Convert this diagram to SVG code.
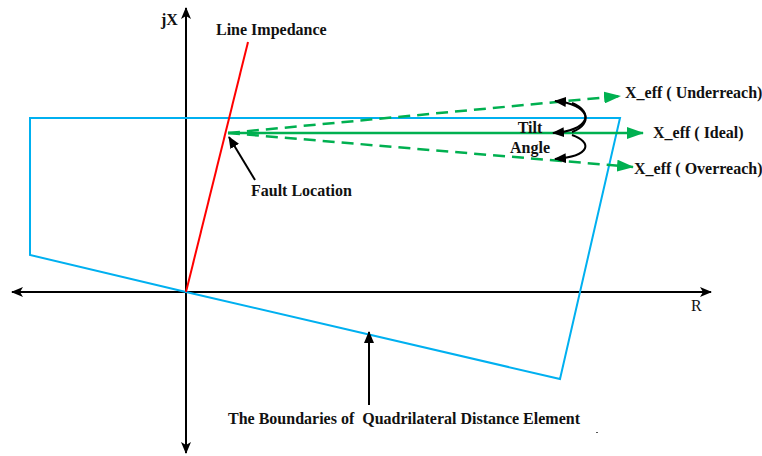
<svg xmlns="http://www.w3.org/2000/svg" width="762" height="456" viewBox="0 0 762 456">
<style>
text{font-family:"Liberation Serif","Times New Roman",serif;font-weight:bold;font-size:16px;fill:#111}
.ax{stroke:#000;stroke-width:2;fill:none}
.g{stroke:#00b050;stroke-width:2.5;fill:none}
.gd{stroke:#00b050;stroke-width:2.5;fill:none;stroke-dasharray:12 7}
</style>
<defs>
<marker id="ka" markerWidth="12" markerHeight="10" refX="11" refY="5" orient="auto" markerUnits="userSpaceOnUse"><path d="M0,0 L12,5 L0,10 L3,5 Z" fill="#000"/></marker>
<marker id="kb" markerWidth="12" markerHeight="10" refX="11" refY="5" orient="auto" markerUnits="userSpaceOnUse"><path d="M0,0 L12,5 L0,10 Z" fill="#000"/></marker>
<marker id="ga" markerWidth="17" markerHeight="12" refX="16" refY="6" orient="auto" markerUnits="userSpaceOnUse"><path d="M0,0 L17,6 L0,12 Z" fill="#00b050"/></marker>
</defs>
<g id="axes">
<line class="ax" x1="186" y1="452" x2="186" y2="8" marker-end="url(#ka)"/>
<line class="ax" x1="186" y1="292" x2="186" y2="453" marker-end="url(#ka)"/>
<line class="ax" x1="186" y1="292" x2="12" y2="292" marker-end="url(#ka)"/>
<line class="ax" x1="186" y1="292" x2="711" y2="292" marker-end="url(#ka)"/>
<text x="161" y="25">jX</text>
<text x="691" y="311" style="font-weight:normal">R</text>
</g>
<g id="quadrilateral">
<path d="M30,118 L620,118 L560,379 L186,292 L30,255 Z" fill="none" stroke="#00b0f0" stroke-width="2"/>
</g>
<g id="line-impedance">
<line x1="186" y1="292" x2="248" y2="42" stroke="#ff0000" stroke-width="2"/>
<text x="216" y="35">Line Impedance</text>
</g>
<g id="connectors">
<line class="gd" x1="228" y1="133" x2="620" y2="96" marker-end="url(#ga)"/>
<line class="g" x1="228" y1="133" x2="643" y2="133" marker-end="url(#ga)"/>
<line class="gd" x1="228" y1="133" x2="633" y2="167" marker-end="url(#ga)"/>
<path d="M572,132 C594,124 590,104 555,101" class="ax" marker-end="url(#kb)"/>
<path d="M572,103 C594,112 590,130 553,133" class="ax" marker-end="url(#kb)"/>
<path d="M572,135 C592,142 592,156 555,159" class="ax" marker-end="url(#kb)"/>
<line class="ax" x1="255" y1="180" x2="229" y2="137" marker-end="url(#kb)"/>
<line class="ax" x1="369" y1="405" x2="369" y2="332" marker-end="url(#kb)"/>
</g>
<g id="labels">
<text x="625" y="98">X_eff ( Underreach)</text>
<text x="653" y="138">X_eff ( Ideal)</text>
<text x="634" y="174">X_eff ( Overreach)</text>
<text x="530" y="133" text-anchor="middle">Tilt</text>
<text x="530" y="153" text-anchor="middle">Angle</text>
<text x="251" y="196">Fault Location</text>
<text x="228" y="424" xml:space="preserve">The Boundaries of  Quadrilateral Distance Element</text>
<rect x="596" y="432" width="2" height="1" fill="#555"/>
</g>
</svg>
